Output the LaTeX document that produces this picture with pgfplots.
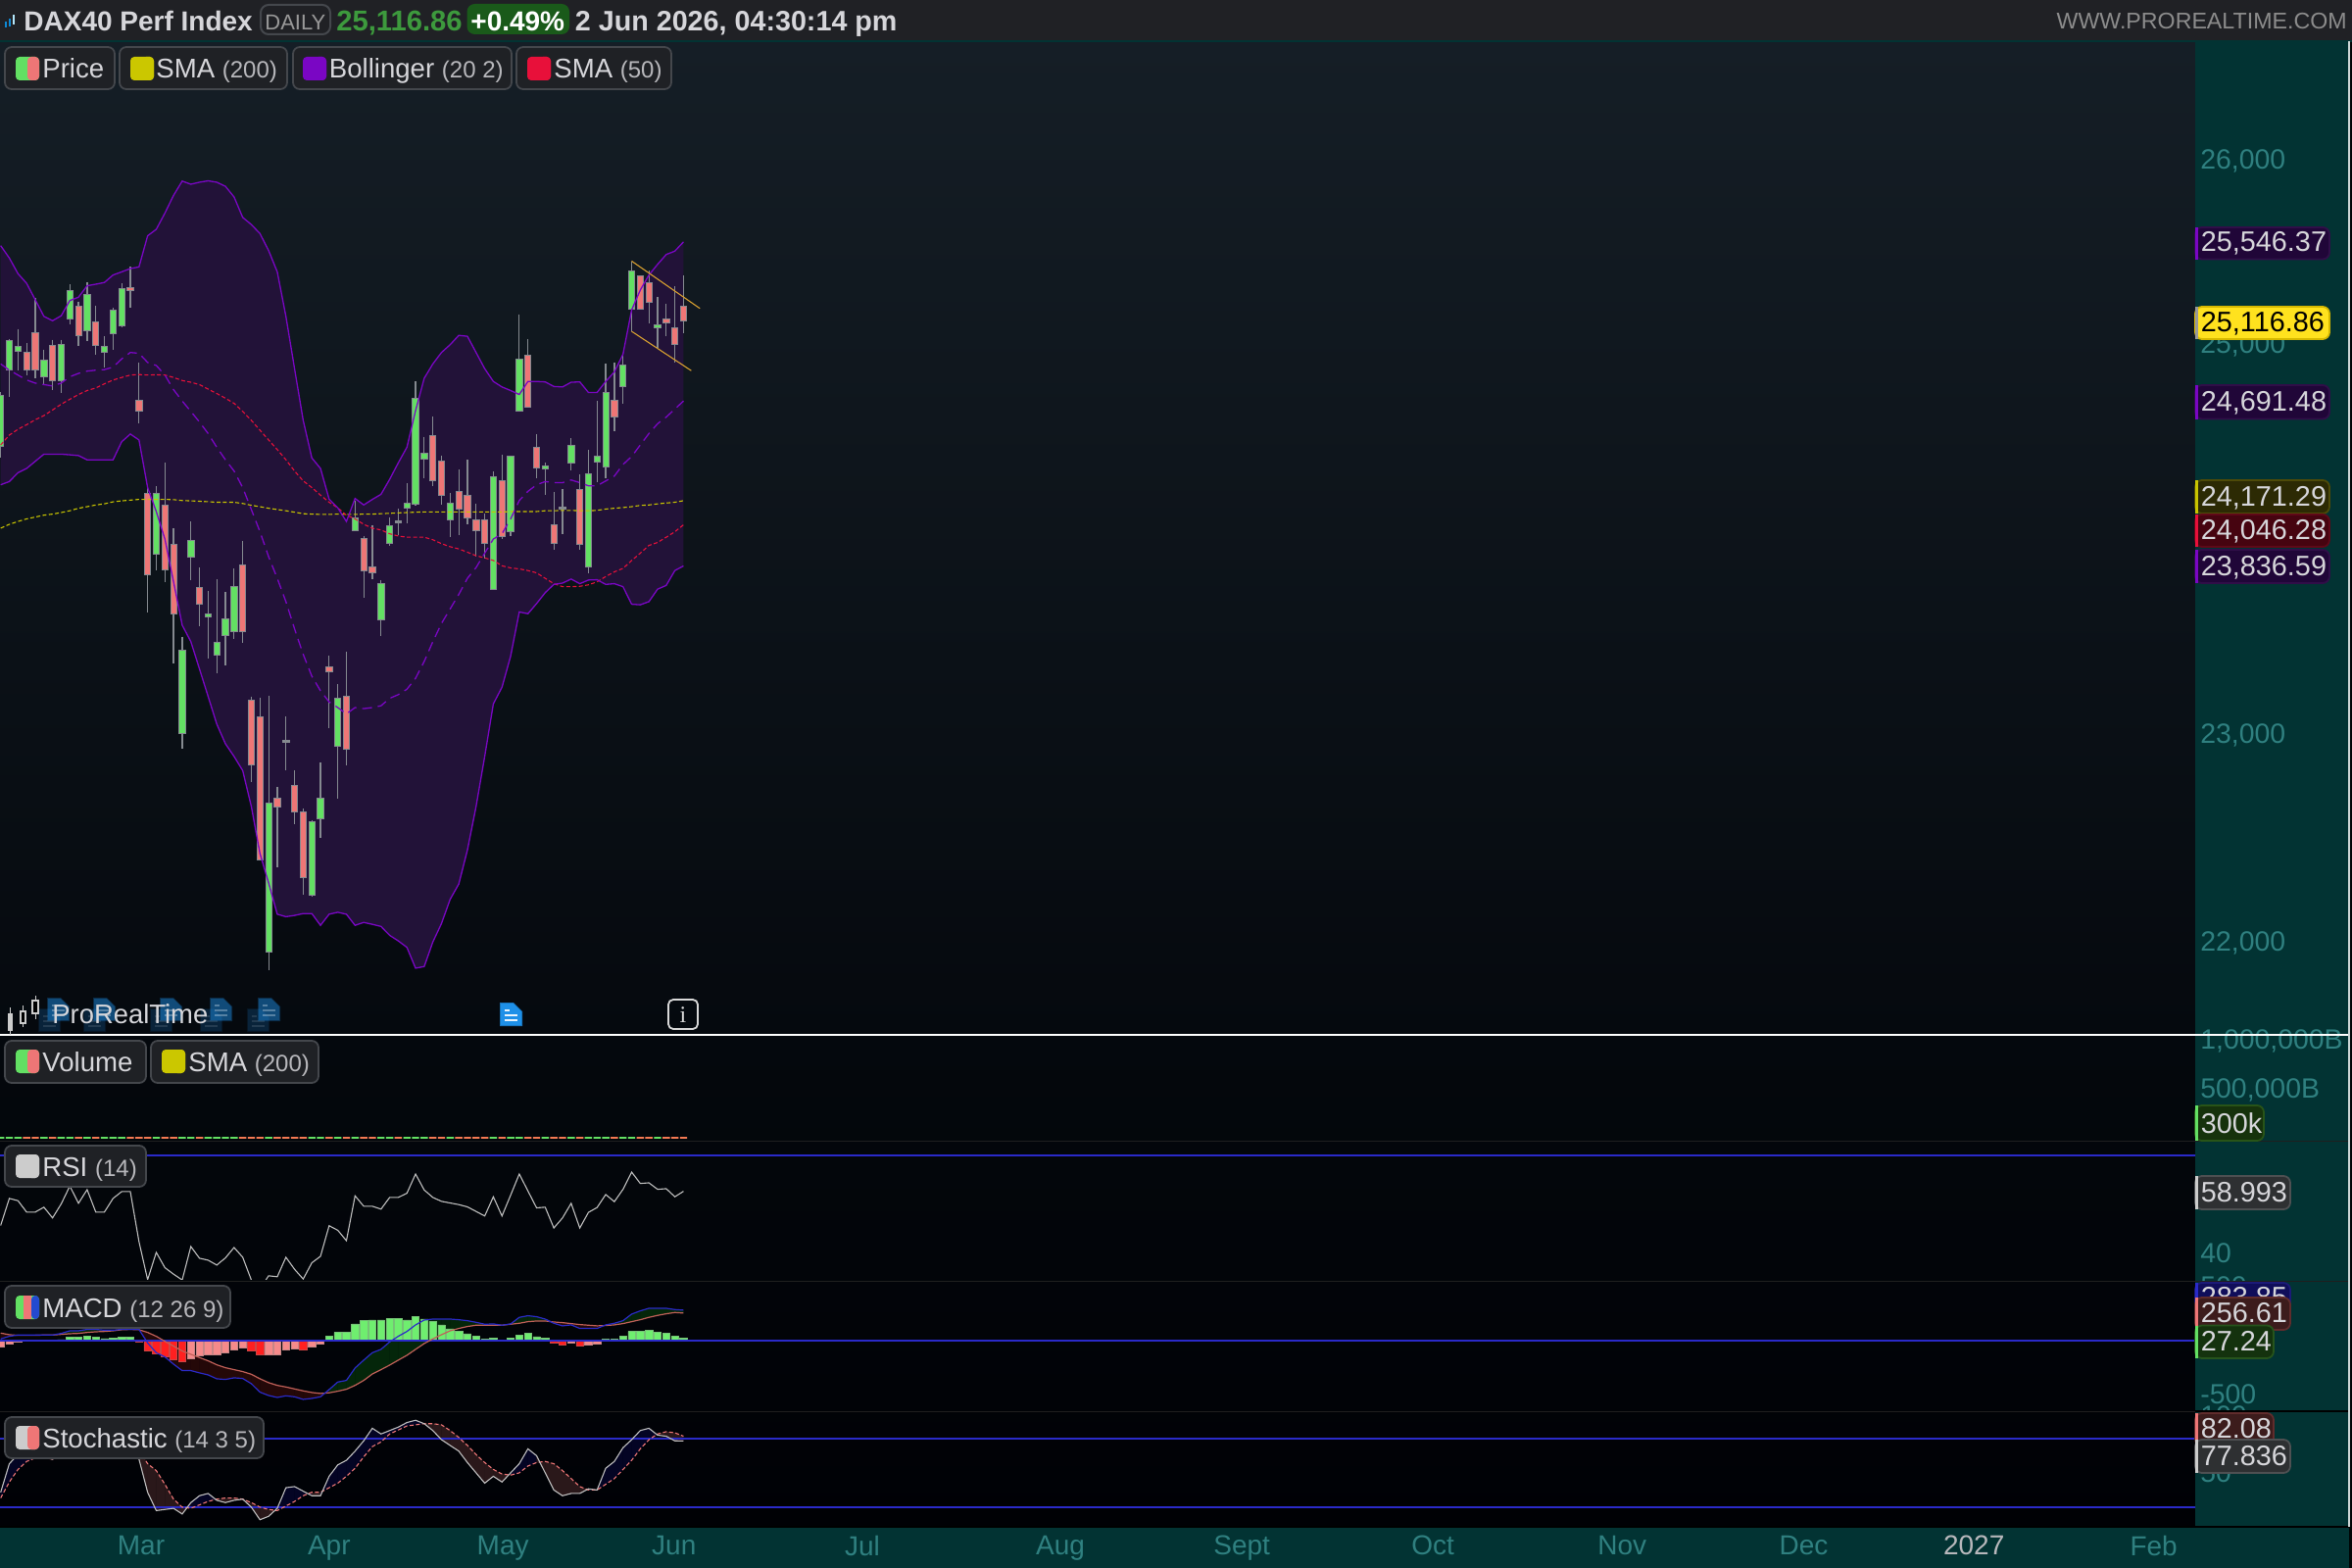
\documentclass[border=0pt]{standalone}
\usepackage{pgfplots}
\usepackage{pgfplotstable}
\usepackage{fontspec}
\setmainfont{Liberation Sans}
\pgfplotsset{compat=1.18}
\definecolor{barbg}{HTML}{202125}
\definecolor{strip}{HTML}{023333}
\definecolor{tickc}{HTML}{2F8080}
\definecolor{txt}{HTML}{D6D6DA}
\definecolor{txtdim}{HTML}{B8B8BC}
\definecolor{chipf}{HTML}{1F2125}
\definecolor{chipb}{HTML}{44474C}
\definecolor{cg}{HTML}{63E063}
\definecolor{cr}{HTML}{EE7676}
\definecolor{wick}{HTML}{858A90}
\definecolor{boll}{HTML}{7A06C4}
\definecolor{bollf}{HTML}{221238}
\definecolor{sfifty}{HTML}{E8103A}
\definecolor{stwo}{HTML}{C8C400}
\definecolor{bl}{HTML}{2A2AC8}
\definecolor{chan}{HTML}{D8A030}
\definecolor{macdr}{HTML}{C06058}
\definecolor{hr}{HTML}{FF2020}
\definecolor{hp}{HTML}{F58A8A}
\definecolor{hg}{HTML}{6FEE6F}
\definecolor{docb}{HTML}{1E90E8}
\definecolor{mup}{HTML}{04260A}
\definecolor{mdn}{HTML}{240808}
\definecolor{sup}{HTML}{040424}
\definecolor{sdn}{HTML}{2A181A}
\definecolor{pctg}{HTML}{1A5A1A}
\definecolor{hdrg}{HTML}{3D9A3D}

\pgfplotstableread{
i top bot hi lo
0 24721 24453 24738 24396
1 25014 24860 25020 24714
2 24983 24956 25075 24855
5 24911 24822 24966 24778
7 24993 24798 25018 24735
8 25282 25127 25316 25098
10 25260 25068 25330 25009
12 24983 24952 25036 24872
13 25175 25052 25187 24966
14 25292 25093 25321 25086
18 24208 23899 24246 23813
21 23412 22998 23478 22924
22 23968 23883 24062 23764
24 23594 23578 23709 23368
25 23450 23385 23768 23295
26 23569 23483 23704 23334
27 23731 23505 23823 23467
31 22658 21947 23181 21862
36 22568 22215 22575 22208
37 22681 22583 22854 22491
39 23170 22936 23241 22679
41 24081 24018 24172 24018
44 23746 23564 23764 23481
45 24045 23952 24087 23937
47 24157 24136 24261 24056
48 24706 24151 24795 24144
49 24419 24388 24504 24287
52 24157 24073 24210 23985
57 24296 23715 24324 23715
59 24403 24013 24403 23987
60 24915 24637 25155 24637
63 24350 24337 24367 24200
66 24460 24367 24496 24328
68 24311 23833 24436 23797
69 24401 24372 24692 24265
70 24737 24345 24889 24285
72 24885 24766 24940 24675
73 25389 25182 25440 25062
76 25100 25084 25246 24974
}\cndG
\pgfplotstableread{
i top bot hi lo
3 24952 24855 25000 24829
4 25057 24855 25241 24812
6 24988 24800 25018 24752
9 25198 25041 25223 24983
11 25111 24988 25200 24935
15 25298 25285 25410 25187
16 24696 24637 24897 24576
17 24208 23792 24239 23600
19 24147 23815 24367 23755
20 23945 23593 24030 23345
23 23728 23642 23828 23531
28 23841 23505 23961 23449
29 23160 22842 23180 22760
30 23080 22383 23175 22380
32 22681 22638 22734 22348
34 22742 22615 22816 22557
35 22615 22302 22632 22217
38 23328 23302 23381 23025
40 23184 22922 23403 22841
42 23978 23810 23989 23675
43 23830 23804 24045 23770
50 24511 24273 24610 24248
51 24378 24197 24405 24150
53 24220 24128 24333 23996
54 24199 24085 24384 24049
55 24070 24016 24157 23886
56 24075 23952 24106 23874
58 24275 23987 24410 23972
61 24937 24661 25021 24655
62 24449 24342 24518 24287
64 24049 23952 24214 23917
67 24229 23947 24305 23917
71 24696 24607 24897 24535
74 25362 25182 25365 25178
75 25325 25218 25392 25107
77 25127 25109 25209 25036
78 25082 24993 25303 24897
79 25196 25117 25364 25053
}\cndR
\pgfplotstableread{
i top bot hi lo
33 22964 22952 23080 22816
46 24068 24056 24128 23992
65 24138 24128 24231 24000
}\cndD

\pgfplotstableread{
i up mid low sf st
0 25526 24889 24253 24461 24030
1 25458 24855 24270 24513 24049
2 25374 24829 24316 24543 24064
3 25321 24803 24338 24567 24077
4 25232 24786 24376 24593 24087
5 25143 24778 24413 24615 24096
6 25119 24771 24413 24644 24102
7 25146 24786 24413 24675 24110
8 25228 24820 24410 24701 24119
9 25246 24838 24405 24726 24132
10 25308 24850 24383 24747 24140
11 25316 24855 24383 24761 24149
12 25325 24858 24383 24783 24155
13 25366 24872 24383 24803 24165
14 25383 24915 24478 24817 24170
15 25401 24949 24518 24829 24174
16 25410 24945 24487 24832 24178
17 25579 24897 24239 24829 24178
18 25615 24880 24115 24831 24178
19 25704 24829 23974 24829 24178
20 25802 24752 23755 24817 24176
21 25881 24692 23536 24800 24172
22 25863 24637 23454 24791 24170
23 25875 24581 23317 24778 24168
24 25883 24521 23180 24755 24166
25 25875 24449 23044 24732 24163
26 25852 24384 22947 24706 24163
27 25793 24325 22885 24679 24163
28 25681 24239 22816 24637 24157
29 25642 24125 22641 24590 24147
30 25592 24011 22414 24538 24140
31 25499 23883 22274 24487 24132
32 25383 23773 22126 24436 24125
33 25143 23655 22114 24384 24119
34 24863 23518 22120 24325 24111
35 24590 23390 22129 24273 24104
36 24393 23281 22129 24239 24102
37 24338 23208 22073 24200 24100
38 24179 23153 22126 24163 24100
39 24134 23125 22135 24134 24102
40 24064 23094 22126 24096 24100
41 24182 23125 22073 24077 24100
42 24149 23120 22087 24049 24102
43 24178 23125 22078 24030 24102
44 24204 23134 22068 24020 24104
45 24282 23171 22026 24001 24106
46 24367 23189 22000 23989 24108
47 24449 23216 21969 23983 24110
48 24641 23271 21872 23983 24111
49 24812 23354 21879 23983 24113
50 24889 23454 21995 23970 24113
51 24949 23545 22082 23950 24113
52 24991 23618 22196 23934 24113
53 25041 23691 22269 23923 24113
54 25036 23773 22431 23906 24113
55 24949 23828 22641 23888 24113
56 24863 23901 22885 23877 24113
57 24795 23974 23144 23864 24113
58 24766 24001 23226 23837 24113
59 24747 24077 23381 23826 24115
60 24726 24172 23603 23821 24115
61 24795 24220 23594 23813 24115
62 24795 24253 23645 23801 24115
63 24793 24270 23700 23773 24119
64 24769 24265 23742 23746 24119
65 24766 24265 23749 23731 24121
66 24791 24278 23769 23731 24121
67 24793 24265 23746 23733 24119
68 24737 24248 23764 23740 24119
69 24737 24248 23766 23755 24121
70 24795 24273 23742 23782 24128
71 24846 24299 23746 23806 24132
72 24940 24359 23731 23824 24136
73 25178 24401 23642 23864 24140
74 25285 24461 23639 23901 24146
75 25366 24521 23655 23941 24149
76 25424 24572 23718 23956 24155
77 25478 24607 23737 23983 24159
78 25496 24649 23813 24011 24163
79 25546.37 24691.48 23836.59 24046.28 24171.29
}\ind

\pgfplotstableread{
i p
0 25526
1 25458
2 25374
3 25321
4 25232
5 25143
6 25119
7 25146
8 25228
9 25246
10 25308
11 25316
12 25325
13 25366
14 25383
15 25401
16 25410
17 25579
18 25615
19 25704
20 25802
21 25881
22 25863
23 25875
24 25883
25 25875
26 25852
27 25793
28 25681
29 25642
30 25592
31 25499
32 25383
33 25143
34 24863
35 24590
36 24393
37 24338
38 24179
39 24134
40 24064
41 24182
42 24149
43 24178
44 24204
45 24282
46 24367
47 24449
48 24641
49 24812
50 24889
51 24949
52 24991
53 25041
54 25036
55 24949
56 24863
57 24795
58 24766
59 24747
60 24726
61 24795
62 24795
63 24793
64 24769
65 24766
66 24791
67 24793
68 24737
69 24737
70 24795
71 24846
72 24940
73 25178
74 25285
75 25366
76 25424
77 25478
78 25496
79 25546.37
79 23836.59
78 23813
77 23737
76 23718
75 23655
74 23639
73 23642
72 23731
71 23746
70 23742
69 23766
68 23764
67 23746
66 23769
65 23749
64 23742
63 23700
62 23645
61 23594
60 23603
59 23381
58 23226
57 23144
56 22885
55 22641
54 22431
53 22269
52 22196
51 22082
50 21995
49 21879
48 21872
47 21969
46 22000
45 22026
44 22068
43 22078
42 22087
41 22073
40 22126
39 22135
38 22126
37 22073
36 22129
35 22129
34 22120
33 22114
32 22126
31 22274
30 22414
29 22641
28 22816
27 22885
26 22947
25 23044
24 23180
23 23317
22 23454
21 23536
20 23755
19 23974
18 24115
17 24239
16 24487
15 24518
14 24478
13 24383
12 24383
11 24383
10 24383
9 24405
8 24410
7 24413
6 24413
5 24413
4 24376
3 24338
2 24316
1 24270
0 24253
}\band

\pgfplotstableread{
i rsi macd sig hist k d
0 48.5 17 71 -59 33 28
1 56.8 41 56 -29 58 42
2 56.1 53 50 -11 66 53
3 52.6 53 50 -5 65 60
4 52.6 53 50 -2 68 63
5 54.1 53 53 2 64 63
6 50.8 53 53 5 62 62
7 55.1 68 59 11 68 63
8 60.6 92 65 32 75 65
9 55.3 92 68 32 80 70
10 59.5 105 77 41 83 74
11 52.6 105 83 32 80 78
12 52.6 98 86 20 74 79
13 56.8 98 92 23 77 78
14 58.9 105 102 32 83 78
15 58.9 105 105 32 82 80
16 43.5 105 102 -14 62 70
17 31.8 -20 77 -95 33 58
18 40.2 -111 41 -120 17 52
19 35.5 -150 -5 -150 18 40
20 33.5 -217 -50 -174 19 27
21 31.7 -277 -95 -192 14 20
22 42 -277 -126 -162 24 19
23 38.4 -298 -156 -141 30 22
24 37.8 -317 -186 -132 32 25
25 36.3 -353 -223 -126 26 27
26 38.5 -359 -250 -111 24 28
27 41.7 -344 -268 -86 26 28
28 38.7 -350 -286 -68 27 27
29 31.7 -398 -311 -89 20 24
30 29 -477 -353 -132 9 20
31 33 -508 -389 -132 12 18
32 32.7 -526 -414 -126 19 17
33 38.7 -511 -429 -83 37 21
34 35 -520 -447 -77 38 25
35 32 -544 -465 -83 34 30
36 37 -535 -480 -56 30 33
37 39 -520 -489 -29 30 33
38 48.4 -453 -483 41 47 37
39 47 -383 -468 77 57 41
40 43.8 -368 -450 77 61 47
41 57.6 -253 -414 156 69 54
42 54.4 -180 -368 186 78 64
43 54.4 -111 -308 192 89 73
44 53.5 -80 -268 192 84 77
45 57.1 -11 -226 205 87 84
46 57.1 41 -180 205 90 87.5
47 58.4 86 -135 192 94 91
48 64.3 147 -80 223 96 92
49 59.4 192 -26 201 93 93
50 57.1 201 17 177 87 93
51 55.9 201 56 147 79 92
52 55.4 201 92 111 74 87
53 54.9 195 114 86 69 81
54 54.2 186 132 65 59 74
55 52.8 171 144 41 50 66
56 51.4 153 144 14 41 59
57 57.3 156 144 23 47 53
58 51.4 144 144 5 42 49
59 57.8 156 153 23 50 48
60 64.3 217 162 53 58 50
61 59.1 232 177 68 71 56
62 53.9 223 183 38 65 59
63 54.1 201 183 23 50 60
64 47.7 162 174 -20 35 58
65 50.8 138 168 -38 30 52
66 55.3 147 159 -20 32 45
67 47.7 114 150 -50 32 38
68 52.5 114 144 -38 36 35
69 54 114 138 -29 35 35
70 58 147 141 14 54 40
71 55.8 162 147 14 60 45
72 59.6 186 159 41 72 53
73 64.9 247 177 86 79 61
74 61.4 277 195 86 87 71
75 61.6 301 217 95 89 79
76 59.6 301 235 77 83 84
77 59.8 301 250 68 82 86
78 57.3 289 262 41 78 85
79 58.993 283.85 256.61 27.24 77.836 82.08
}\osc
\pgfplotstableread{
i v
0 300000
1 300000
2 300000
5 300000
7 300000
8 300000
10 300000
12 300000
13 300000
14 300000
18 300000
21 300000
22 300000
24 300000
25 300000
26 300000
27 300000
31 300000
36 300000
37 300000
39 300000
41 300000
44 300000
45 300000
47 300000
48 300000
49 300000
52 300000
57 300000
59 300000
60 300000
63 300000
66 300000
68 300000
69 300000
70 300000
72 300000
73 300000
76 300000
}\volG
\pgfplotstableread{
i v
3 300000
4 300000
6 300000
9 300000
11 300000
15 300000
16 300000
17 300000
19 300000
20 300000
23 300000
28 300000
29 300000
30 300000
32 300000
33 300000
34 300000
35 300000
38 300000
40 300000
42 300000
43 300000
46 300000
50 300000
51 300000
53 300000
54 300000
55 300000
56 300000
58 300000
61 300000
62 300000
64 300000
65 300000
67 300000
71 300000
74 300000
75 300000
77 300000
78 300000
79 300000
}\volR
\pgfplotstableread{
i h
5 2
6 5
7 11
8 32
9 32
10 41
11 32
12 20
13 23
14 32
15 32
38 41
39 77
40 77
41 156
42 186
43 192
44 192
45 205
46 205
47 192
48 223
49 201
50 177
51 147
52 111
53 86
54 65
55 41
56 14
57 23
58 5
59 23
60 53
61 68
62 38
63 23
70 14
71 14
72 41
73 86
74 86
75 95
76 77
77 68
78 41
79 27.24
}\hG
\pgfplotstableread{
i h
16 -14
17 -95
18 -120
19 -150
20 -174
21 -192
29 -89
30 -132
35 -83
64 -20
65 -38
67 -50
}\hR
\pgfplotstableread{
i h
0 -59
1 -29
2 -11
3 -5
4 -2
22 -162
23 -141
24 -132
25 -126
26 -111
27 -86
28 -68
31 -132
32 -126
33 -83
34 -77
36 -56
37 -29
66 -20
68 -38
69 -29
}\hP

\pgfplotsset{
  panel/.style={
    anchor=north west, scale only axis, width=1120pt,
    xmin=-0.08, xmax=253.9,
    axis line style={draw=none}, major tick length=0pt, minor tick length=0pt,
    xtick=\empty, yticklabel pos=right,
    y tick label style={anchor=west, inner sep=0pt, xshift=2.5pt, text=tickc, font=\fontsize{14.2pt}{14.2pt}\selectfont},
    scaled y ticks=false,
  },
  % the price scale is logarithmic: a true log axis overflows on so narrow a range
  logprice/.style={
    y coord trafo/.code={\begingroup\pgfkeys{/pgf/fpu=true,/pgf/fpu/output format=fixed}\pgfmathparse{1000*ln(##1)}\xdef\mytrafores{\pgfmathresult}\endgroup\let\pgfmathresult\mytrafores},
  },
}
% one wick and one body per row of a candle table
\newcommand\candles[2]{%
  \pgfplotstablegetrowsof{#1}\pgfmathtruncatemacro\nr{\pgfplotsretval-1}%
  \pgfplotsinvokeforeach{0,...,\nr}{%
    \pgfplotstablegetelem{##1}{i}\of{#1}\let\ci\pgfplotsretval
    \pgfplotstablegetelem{##1}{top}\of{#1}\let\ct\pgfplotsretval
    \pgfplotstablegetelem{##1}{bot}\of{#1}\let\cb\pgfplotsretval
    \pgfplotstablegetelem{##1}{hi}\of{#1}\let\ch\pgfplotsretval
    \pgfplotstablegetelem{##1}{lo}\of{#1}\let\cl\pgfplotsretval
    \pgfmathsetmacro\cx{\ci-0.36}\pgfmathsetmacro\cX{\ci+0.36}%
    \edef\tmp{\noexpand\addplot[draw=wick,line width=0.6pt,forget plot] coordinates {(\ci,\ch)(\ci,\cl)};
      \noexpand\addplot[draw=wick,fill=#2,line width=0.4pt,forget plot] coordinates {(\cx,\ct)(\cX,\ct)(\cX,\cb)(\cx,\cb)} -- cycle;}\tmp
  }}
% shaded ribbon between two columns of the oscillator table
\newcommand\ribbon[4]{%
  \pgfplotsinvokeforeach{0,...,78}{%
    \pgfmathtruncatemacro\rn{##1+1}%
    \pgfplotstablegetelem{##1}{#1}\of{\osc}\let\ra\pgfplotsretval
    \pgfplotstablegetelem{##1}{#2}\of{\osc}\let\rb\pgfplotsretval
    \pgfplotstablegetelem{\rn}{#1}\of{\osc}\let\rA\pgfplotsretval
    \pgfplotstablegetelem{\rn}{#2}\of{\osc}\let\rB\pgfplotsretval
    \pgfmathtruncatemacro\rup{(\ra+\rA-\rb-\rB)>=0?1:0}%
    \ifnum\rup=1 \def\rc{#3}\else\def\rc{#4}\fi
    \edef\tmp{\noexpand\addplot[draw=\rc,fill=\rc,line width=0.15pt,forget plot] coordinates {(##1,\ra)(\rn,\rA)(\rn,\rB)(##1,\rb)} -- cycle;}\tmp
  }}
\newcommand\hbars[2]{\addplot[ybar, bar width=3.7pt, bar shift=0pt, fill=#2, draw=#2!60!gray, line width=0.3pt, forget plot] table[x=i,y=h]{#1};}
\newcommand\vbars[2]{\addplot[ybar, bar width=3.7pt, bar shift=0pt, fill=#2, draw=#2, line width=0.9pt, forget plot] table[x=i,y=v]{#1};}
% overlay helpers (coordinates in reference pixels)
\newcommand\chip[6]{\draw[rounded corners=3.5pt, fill=#5, draw=#6, line width=0.9pt] (#1,#2) rectangle (#3,#4);}
\newcommand\mktwo[4]{\fill[#3, rounded corners=2pt] (#1,#2) rectangle ++(24,24); \fill[#4, rounded corners=2pt] (#1+12,#2) rectangle ++(12,24);}
\newcommand\lab[4]{\node[anchor=base west, inner sep=0pt, text=txt] at (#1,#2) {\fontsize{13.8pt}{13.8pt}\selectfont #3\ \textcolor{txtdim}{\fontsize{12pt}{12pt}\selectfont #4}};}
\newcommand\pchip[7]{%
  \draw[rounded corners=3.5pt, fill=#4, draw=#5, line width=0.9pt] (2240,#2) rectangle (#1,#3);
  \fill[#6] (2240,#2) rectangle (2243,#3);
  \node[anchor=base west, inner sep=0pt, text=txt] at (2245.5,#3-8) {\fontsize{14.4pt}{14.4pt}\selectfont #7};}
\newcommand\doc[3]{\begin{scope}[shift={(#1,#2)}, opacity=#3]
  \fill[docb!80!black] (0,0) -- (14,0) -- (23,9) -- (23,24) -- (0,24) -- cycle;
  \fill[docb] (1,1) -- (14,1) -- (22,9) -- (22,23) -- (1,23) -- cycle;
  \fill[white!90!docb] (5,12) rectangle (18,14); \fill[white!90!docb] (5,17) rectangle (18,19); \fill[white!90!docb] (5,7) rectangle (10,9);
  \end{scope}}
\newcommand\ddoc[3]{\doc{#1}{#2}{#3}}

\begin{document}
\begin{tikzpicture}
\path[use as bounding box] (0,0) rectangle (1200pt,-800pt);
\begin{scope}[x=0.5pt,y=-0.5pt]
  \fill[black!90!strip] (0,0) rectangle (2400,1600);
  \shade[top color={rgb,255:red,21;green,30;blue,38}, bottom color={rgb,255:red,5;green,9;blue,14}] (0,42) rectangle (2240,1056);
  \shade[top color={rgb,255:red,4;green,8;blue,13}, bottom color={rgb,255:red,0;green,1;blue,5}] (0,1056) rectangle (2240,1558);
  \fill[strip] (2240,42) rectangle (2397,1600);
  \fill[strip] (0,1558) rectangle (2240,1600);
  \fill[barbg] (0,0) rectangle (2400,41);
  \fill[strip] (0,41) rectangle (2400,43);
\end{scope}

% ---------- price panel ----------
\begin{axis}[panel, logprice, at={(0pt,-21pt)}, height=507pt, ymin=21562, ymax=26667,
  ytick={22000,23000,24000,25000,26000}, yticklabels={{22,000},{23,000},{24,000},{25,000},{26,000}},
  y tick label style={yshift=-1pt}]
  \addplot[fill=bollf, draw=none, forget plot] table[x=i,y=p]{\band} -- cycle;
  \candles{\cndG}{cg}
  \candles{\cndR}{cr}
  \candles{\cndD}{wick}
  \addplot[stwo, line width=0.55pt, dash pattern=on 2pt off 1.2pt] table[x=i,y=st]{\ind};
  \addplot[sfifty, line width=0.55pt, dash pattern=on 2pt off 1.2pt] table[x=i,y=sf]{\ind};
  \addplot[boll, line width=0.65pt, dash pattern=on 5pt off 3pt] table[x=i,y=mid]{\ind};
  \addplot[boll, line width=0.65pt] table[x=i,y=up]{\ind};
  \addplot[boll, line width=0.65pt] table[x=i,y=low]{\ind};
  \addplot[chan, line width=0.55pt] coordinates {(73,25442)(80.9,25185)};
  \addplot[chan, line width=0.55pt] coordinates {(73,25062)(79.9,24853)};
\end{axis}

% ---------- volume panel ----------
\begin{axis}[panel, at={(0pt,-528pt)}, height=54pt, ymin=-3e10, ymax=1.07e12, clip=false,
  ytick={5e11,1e12}, yticklabels={{500,000B},{1,000,000B}}]
  \vbars{\volR}{cr!70!orange}
  \vbars{\volG}{cg}
\end{axis}

% ---------- RSI panel ----------
\begin{axis}[panel, at={(0pt,-581.3pt)}, height=71.5pt, ymin=31.86, ymax=74.97,
  ytick={40,60}, yticklabels={40,60}]
  \addplot[bl, line width=0.7pt] coordinates {(-1,70)(254,70)};
  \addplot[white!75!black, line width=0.55pt] table[x=i,y=rsi]{\osc};
\end{axis}

% ---------- MACD panel ----------
\begin{axis}[panel, at={(0pt,-652.8pt)}, height=67pt, ymin=-650, ymax=568,
  ytick={-500,500}, yticklabels={-500,500}]
  \ribbon{macd}{sig}{mup}{mdn}
  \hbars{\hG}{hg}\hbars{\hR}{hr}\hbars{\hP}{hp}
  \addplot[bl, line width=0.7pt] coordinates {(-1,0)(254,0)};
  \addplot[macdr, line width=0.6pt] table[x=i,y=sig]{\osc};
  \addplot[bl, line width=0.6pt] table[x=i,y=macd]{\osc};
\end{axis}

% ---------- Stochastic panel ----------
\begin{axis}[panel, at={(0pt,-719.8pt)}, height=58.5pt, ymin=3.98, ymax=104.25,
  ytick={50,100}, yticklabels={50,100},
  xtick={16.25,38,58.1,77.9,99.7,122.6,143.6,165.7,187.6,208.6,228.3,249.1},
  xticklabels={Mar,Apr,May,Jun,Jul,Aug,Sept,Oct,Nov,Dec,\textcolor{txtdim}{2027},Feb},
  x tick label style={text=tickc, inner sep=0pt, yshift=-5.2pt, font=\fontsize{14pt}{14pt}\selectfont}]
  \ribbon{k}{d}{sup}{sdn}
  \addplot[bl, line width=0.7pt] coordinates {(-1,80)(254,80)};
  \addplot[bl, line width=0.7pt] coordinates {(-1,20)(254,20)};
  \addplot[cr, line width=0.55pt, dash pattern=on 2pt off 1.2pt] table[x=i,y=d]{\osc};
  \addplot[white!75!black, line width=0.55pt] table[x=i,y=k]{\osc};
\end{axis}

\begin{scope}[x=0.5pt,y=-0.5pt]
  % panel separators
  \draw[white, line width=0.8pt] (0,1056) -- (2397,1056);
  \draw[white!12!black, line width=0.5pt] (0,1164.5) -- (2397,1164.5);
  \draw[white!12!black, line width=0.5pt] (0,1307) -- (2397,1307);
  \draw[black, line width=0.6pt] (2240,1440) -- (2397,1440);
  \draw[white!12!black, line width=0.5pt] (0,1440) -- (2240,1440);
  \draw[black, line width=0.6pt] (0,1558) -- (2397,1558);
  \draw[white!80!strip, line width=0.6pt] (2397,42) -- (2397,1558);

  % header
  \fill[cyan!70!blue] (5,22) rectangle (7,28); \fill[cyan!70!blue] (9,19) rectangle (11,27); \fill[white!70!cyan] (13,15) rectangle (15,25);
  \node[anchor=base west, inner sep=0pt, text=txt] at (24,32) {\fontsize{14pt}{14pt}\selectfont\bfseries DAX40 Perf Index};
  \draw[rounded corners=4pt, draw=chipb, line width=1pt, fill=barbg] (266,5) rectangle (337,35);
  \node[anchor=base west, inner sep=0pt, text=white!60!black] at (270,31) {\fontsize{11pt}{11pt}\selectfont DAILY};
  \node[anchor=base west, inner sep=0pt, text=hdrg] at (343,32) {\fontsize{14.6pt}{14.6pt}\selectfont\bfseries 25,116.86};
  \fill[rounded corners=4pt, pctg] (476.5,4) rectangle (581,35);
  \node[anchor=base west, inner sep=0pt, text=white] at (480,32) {\fontsize{14pt}{14pt}\selectfont\bfseries +0.49\%};
  \node[anchor=base west, inner sep=0pt, text=txt] at (586.5,32) {\fontsize{14.35pt}{14.35pt}\selectfont\bfseries 2 Jun 2026, 04:30:14 pm};
  \node[anchor=base east, inner sep=0pt, text=white!55!black] at (2395,30) {\fontsize{11.6pt}{11.6pt}\selectfont WWW.PROREALTIME.COM};

  % price legends
  \chip{5}{48}{117}{91}{chipf}{chipb}\mktwo{16}{58}{cg}{cr}\lab{43}{79.5}{Price}{}
  \chip{122}{48}{293}{91}{chipf}{chipb}\mktwo{133}{58}{stwo!95!yellow}{stwo!95!yellow}\lab{159}{79.5}{SMA}{(200)}
  \chip{299}{48}{522}{91}{chipf}{chipb}\mktwo{309}{58}{boll}{boll}\lab{335.5}{79.5}{Bollinger}{(20 2)}
  \chip{527}{48}{685}{91}{chipf}{chipb}\mktwo{538}{58}{sfifty}{sfifty}\lab{565}{79.5}{SMA}{(50)}
  % volume legends
  \chip{5}{1062}{149}{1105}{chipf}{chipb}\mktwo{16}{1071}{cg}{cr}\lab{43}{1093}{Volume}{}
  \chip{154}{1062}{325}{1105}{chipf}{chipb}\mktwo{165}{1071}{stwo!95!yellow}{stwo!95!yellow}\lab{192}{1093}{SMA}{(200)}
  % RSI
  \chip{5}{1169}{149}{1211}{chipf}{chipb}\mktwo{16}{1178}{white!80!black}{white!80!black}\lab{43}{1200}{RSI}{(14)}
  % MACD
  \chip{5}{1312}{235}{1355}{chipf}{chipb}
  \fill[cg, rounded corners=2pt] (16,1322) rectangle ++(24,24); \fill[cr] (24,1322) rectangle (32,1346); \fill[bl!85!cyan, rounded corners=2pt] (32,1322) rectangle (40,1346);
  \lab{43}{1344}{MACD}{(12 26 9)}
  % Stochastic
  \chip{5}{1446}{269}{1488}{chipf}{chipb}\mktwo{16}{1455}{white!80!black}{cr}\lab{43}{1477}{Stochastic}{(14 3 5)}

  % logo + icons
  \ddoc{39}{1029}{0.12}\ddoc{48}{1018}{0.32}
  \ddoc{85}{1029}{0.12}\ddoc{95}{1018}{0.32}
  \ddoc{153}{1029}{0.12}\ddoc{163}{1018}{0.32}
  \ddoc{204}{1029}{0.12}\ddoc{214}{1018}{0.32}
  \ddoc{252}{1029}{0.12}\ddoc{263}{1018}{0.32}
  \fill[white!80!black] (8,1034) rectangle (13,1052); \draw[white!80!black, line width=0.5pt] (10.5,1028) -- (10.5,1056);
  \draw[white!80!black, line width=0.7pt] (23.5,1026) -- (23.5,1048); \draw[white!80!black, fill=black, line width=0.7pt] (21,1032) rectangle (26,1044);
  \draw[white!80!black, line width=0.7pt] (36.5,1016) -- (36.5,1040); \draw[white!80!black, fill=black, line width=0.7pt] (33,1021) rectangle (39,1034);
  \node[anchor=base west, inner sep=0pt, text=txt] at (53,1044) {\fontsize{13.7pt}{13.7pt}\selectfont ProRealTime};
  \doc{510}{1023}{1}
  \draw[white!85!black, rounded corners=2.5pt, line width=0.9pt] (682,1020) rectangle (712,1050);
  \node[anchor=base, inner sep=0pt, text=white!85!black] at (697,1043) {\fontsize{12pt}{12pt}\selectfont\fontspec{Liberation Serif}i};

  % price labels
  \pchip{2377}{232}{264.5}{{rgb,255:red,32;green,6;blue,56}}{{rgb,255:red,48;green,14;blue,72}}{boll}{25,546.37}
  \draw[rounded corners=3.5pt, fill={rgb,255:red,255;green,226;blue,30}, draw={rgb,255:red,214;green,184;blue,0}, line width=0.9pt] (2240,313) rectangle (2377,346);
  \fill[white!60!black] (2240,313) rectangle (2243,346);
  \node[anchor=base west, inner sep=0pt, text=black] at (2245.5,338) {\fontsize{14.4pt}{14.4pt}\selectfont 25,116.86};
  \pchip{2377}{393}{427.5}{{rgb,255:red,32;green,6;blue,56}}{{rgb,255:red,48;green,14;blue,72}}{boll}{24,691.48}
  \pchip{2377}{490}{524}{{rgb,255:red,44;green,42;blue,4}}{{rgb,255:red,78;green,74;blue,8}}{stwo}{24,171.29}
  \pchip{2377}{525}{558}{{rgb,255:red,70;green,4;blue,16}}{{rgb,255:red,96;green,8;blue,24}}{sfifty}{24,046.28}
  \pchip{2377}{561}{595}{{rgb,255:red,32;green,6;blue,56}}{{rgb,255:red,48;green,14;blue,72}}{boll}{23,836.59}
  % lower labels
  \pchip{2310}{1128}{1164}{{rgb,255:red,22;green,50;blue,12}}{{rgb,255:red,40;green,84;blue,24}}{cg}{300k}
  \pchip{2337}{1200}{1234}{{rgb,255:red,46;green,48;blue,50}}{{rgb,255:red,78;green,80;blue,82}}{white!80!black}{58.993}
  \pchip{2337}{1309}{1341}{{rgb,255:red,16;green,14;blue,90}}{{rgb,255:red,28;green,26;blue,120}}{bl}{283.85}
  \pchip{2337}{1324}{1357}{{rgb,255:red,60;green,28;blue,28}}{{rgb,255:red,96;green,44;blue,44}}{cr}{256.61}
  \pchip{2320}{1352.5}{1386}{{rgb,255:red,20;green,50;blue,14}}{{rgb,255:red,38;green,84;blue,28}}{cg}{27.24}
  \pchip{2320}{1442}{1475.5}{{rgb,255:red,60;green,28;blue,28}}{{rgb,255:red,96;green,44;blue,44}}{cr}{82.08}
  \pchip{2337}{1469}{1503}{{rgb,255:red,46;green,48;blue,50}}{{rgb,255:red,78;green,80;blue,82}}{white!80!black}{77.836}
\end{scope}
\end{tikzpicture}
\end{document}
